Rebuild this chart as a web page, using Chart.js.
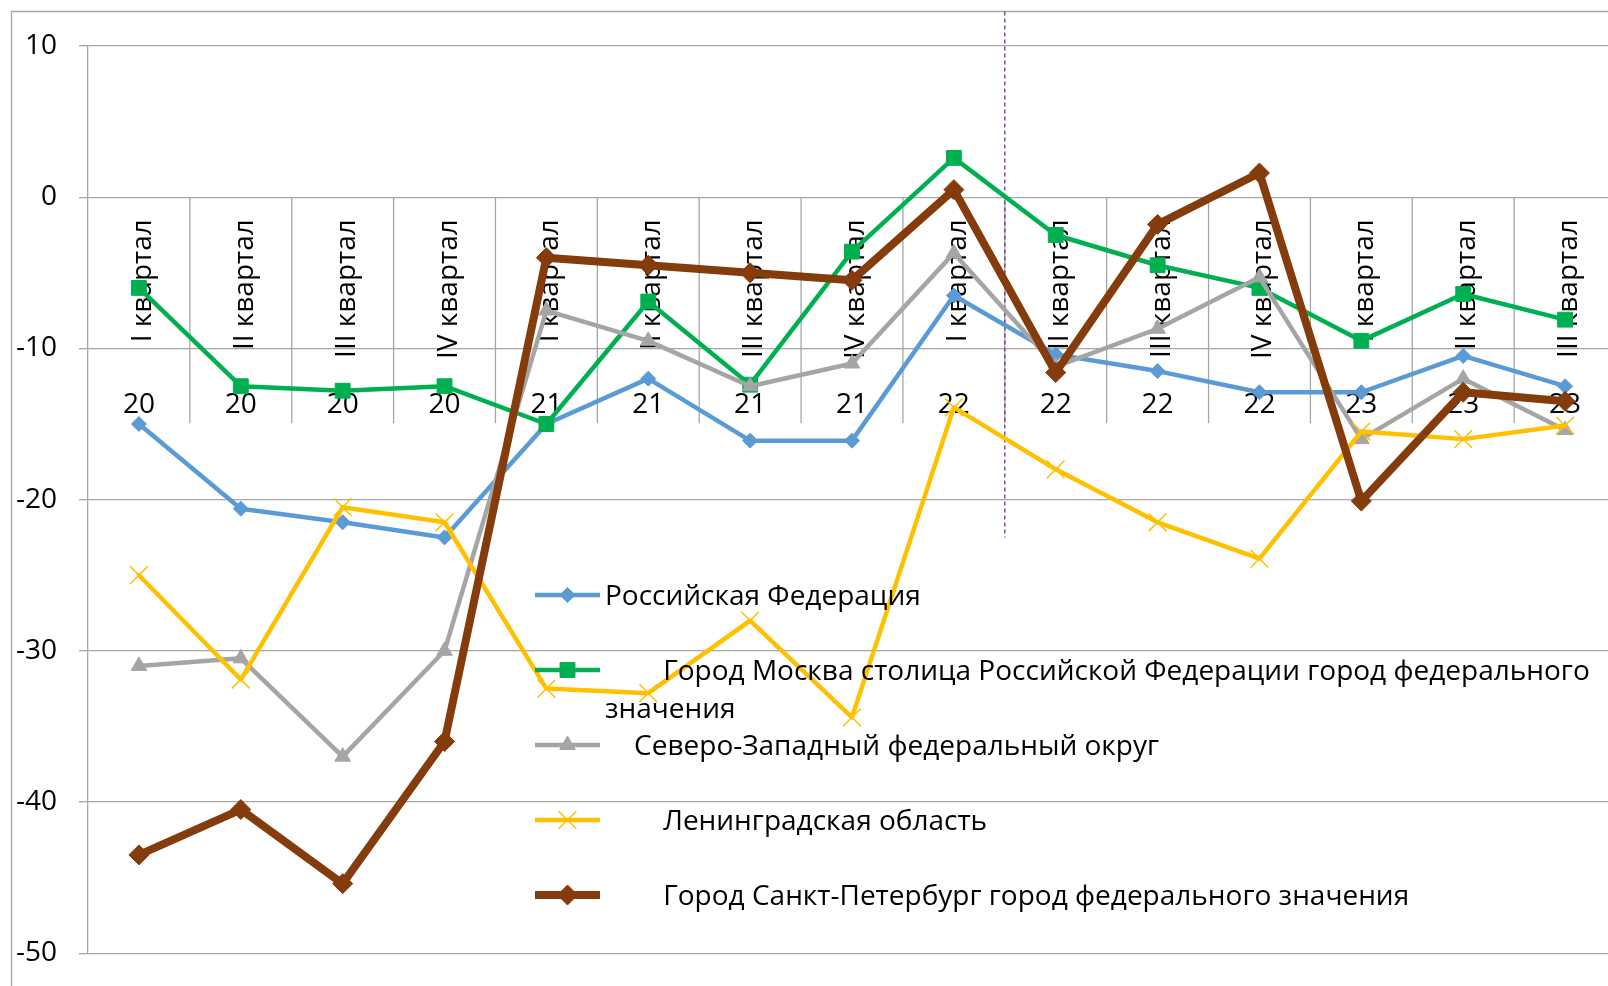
<!DOCTYPE html>
<html>
<head>
<meta charset="utf-8">
<script src="https://cdn.jsdelivr.net/npm/chart.js@4.4.1/dist/chart.umd.min.js"></script>
<style>
  html, body { margin: 0; padding: 0; background: #fff; overflow: hidden; }
  #wrap { position: absolute; left: 0; top: 0; width: 1640px; height: 992px; }
</style>
</head>
<body>
<div id="wrap"><canvas id="chart" width="1640" height="992" style="width:1640px;height:992px"></canvas></div>
<script>
// кварталы и годы (подписи оси X в два уровня)
const quarters = ['I квартал', 'II квартал', 'III квартал', 'IV квартал',
                  'I квартал', 'II квартал', 'III квартал', 'IV квартал',
                  'I квартал', 'II квартал', 'III квартал', 'IV квартал',
                  'I квартал', 'II квартал', 'III квартал'];
const years = ['20', '20', '20', '20', '21', '21', '21', '21',
               '22', '22', '22', '22', '23', '23', '23'];

// значения по рядам
const russia = [-15.0, -20.6, -21.5, -22.5, -15.0, -12.0, -16.1, -16.1, -6.5, -10.4, -11.5, -12.9, -12.9, -10.5, -12.5];
const moscow = [-6.0, -12.5, -12.8, -12.5, -15.0, -6.9, -12.4, -3.6, 2.6, -2.5, -4.5, -6.0, -9.5, -6.4, -8.1];
const nwfd   = [-31.0, -30.5, -37.0, -30.0, -7.5, -9.5, -12.5, -11.0, -3.7, -11.2, -8.7, -5.3, -16.0, -12.0, -15.4];
const lenobl = [-25.0, -31.9, -20.5, -21.5, -32.5, -32.8, -28.0, -34.4, -13.9, -18.0, -21.5, -23.9, -15.5, -16.0, -15.1];
const spb    = [-43.5, -40.5, -45.4, -36.0, -4.0, -4.5, -5.0, -5.5, 0.5, -11.6, -1.8, 1.6, -20.1, -12.9, -13.5];

const FONT = '"Open Sans", "Noto Sans", sans-serif';
const GRID = '#a6a6a6';

function series(label, data, color, style, radius, width, order, pbw) {
  return {
    label: label,
    data: data,
    borderColor: color,
    backgroundColor: color,
    borderWidth: width,
    borderJoinStyle: 'round',
    borderCapStyle: 'round',
    pointStyle: style,
    pointRadius: radius,
    pointHoverRadius: radius,
    pointBackgroundColor: color,
    pointBorderColor: color,
    pointBorderWidth: pbw,
    tension: 0,
    order: order
  };
}

// рамка, разделители категорий, подписи кварталов и лет, пунктир
const decor = {
  id: 'decor',
  beforeDraw(chart) {
    const ctx = chart.ctx;
    ctx.save();
    ctx.strokeStyle = GRID;
    ctx.lineWidth = 1.3;
    ctx.beginPath();
    ctx.moveTo(11.5, chart.height + 5);
    ctx.lineTo(11.5, 11.5);
    ctx.lineTo(chart.width + 5, 11.5);
    ctx.stroke();
    ctx.restore();
  },
  beforeDatasetsDraw(chart) {
    const { ctx, scales: { x, y } } = chart;
    const y0 = y.getPixelForValue(0);
    ctx.save();
    ctx.strokeStyle = GRID;
    ctx.lineWidth = 1.3;
    for (let i = 1; i <= quarters.length; i++) {
      const xb = x.getPixelForValue(i) - (x.getPixelForValue(1) - x.getPixelForValue(0)) / 2;
      ctx.beginPath();
      ctx.moveTo(xb, y0);
      ctx.lineTo(xb, y0 + 226);
      ctx.stroke();
    }
    ctx.fillStyle = '#000';
    ctx.font = '28px ' + FONT;
    quarters.forEach((q, i) => {
      const cx = x.getPixelForValue(i);
      ctx.save();
      ctx.translate(cx + 12, y0 + 22);
      ctx.rotate(-Math.PI / 2);
      ctx.textAlign = 'right';
      ctx.textBaseline = 'alphabetic';
      ctx.fillText(q, 0, 0);
      ctx.restore();
      ctx.textAlign = 'center';
      ctx.textBaseline = 'alphabetic';
      ctx.fillText(years[i], cx, y0 + 216);
    });
    // граница между I и II кварталом 2022
    const xd = (x.getPixelForValue(8) + x.getPixelForValue(9)) / 2;
    ctx.strokeStyle = '#7030a0';
    ctx.lineWidth = 1.3;
    ctx.setLineDash([4, 3]);
    ctx.beginPath();
    ctx.moveTo(xd, 11.5);
    ctx.lineTo(xd, y.getPixelForValue(-22.5));
    ctx.stroke();
    ctx.restore();
  },
  afterDatasetsDraw(chart) {
    // легенда внутри области построения
    const ctx = chart.ctx;
    ctx.save();
    ctx.font = '28px ' + FONT;
    ctx.textAlign = 'left';
    ctx.textBaseline = 'alphabetic';
    chart.data.datasets.forEach((ds, i) => {
      const ly = 595 + i * 75;
      ctx.strokeStyle = ds.borderColor;
      ctx.lineWidth = ds.borderWidth;
      ctx.lineCap = 'butt';
      ctx.setLineDash([]);
      ctx.beginPath();
      ctx.moveTo(535, ly);
      ctx.lineTo(600, ly);
      ctx.stroke();
      ctx.fillStyle = ds.pointBackgroundColor;
      ctx.strokeStyle = ds.pointBorderColor;
      ctx.lineWidth = ds.pointBorderWidth;
      Chart.helpers.drawPoint(ctx, {
        pointStyle: ds.pointStyle, radius: ds.pointRadius,
        rotation: 0, borderWidth: ds.pointBorderWidth
      }, 567.5, ly);
      ctx.fillStyle = '#000';
      const lines = Array.isArray(ds.label) ? ds.label : [ds.label];
      lines.forEach((t, k) => ctx.fillText(t, 605, ly + 10 + k * 38));
    });
    ctx.restore();
  }
};

new Chart(document.getElementById('chart'), {
  type: 'line',
  data: {
    labels: quarters.map((q, i) => q + ' ' + years[i]),
    datasets: [
      series('Российская Федерация', russia, '#5b9bd5', 'rectRot', 7.5, 4.5, 5, 1),
      series(['        Город Москва столица Российской Федерации город федерального', 'значения'],
             moscow, '#00b050', 'rect', 10.5, 4.5, 4, 1),
      series('    Северо-Западный федеральный округ', nwfd, '#a5a5a5', 'triangle', 9, 4.5, 3, 1),
      series('        Ленинградская область', lenobl, '#ffc000', 'crossRot', 12.5, 4.5, 2, 1.5),
      series('        Город Санкт-Петербург город федерального значения', spb, '#843c0c', 'rectRot', 10, 8, 1, 1)
    ]
  },
  options: {
    responsive: false,
    animation: false,
    devicePixelRatio: 1,
    layout: { padding: { top: 46, bottom: 27, left: 0, right: 24 } },
    plugins: {
      legend: { display: false },
      tooltip: { enabled: false }
    },
    scales: {
      x: {
        type: 'category',
        offset: true,
        display: false
      },
      y: {
        min: -50,
        max: 10,
        afterFit(scale) { scale.width = 88; },
        ticks: {
          stepSize: 10,
          padding: 22,
          color: '#000',
          font: { family: FONT, size: 28 }
        },
        grid: {
          color: GRID,
          lineWidth: 1.3,
          tickLength: 9,
          drawTicks: true
        },
        border: { display: true, color: GRID, width: 1.3 }
      }
    }
  },
  plugins: [decor]
});
</script>
</body>
</html>
